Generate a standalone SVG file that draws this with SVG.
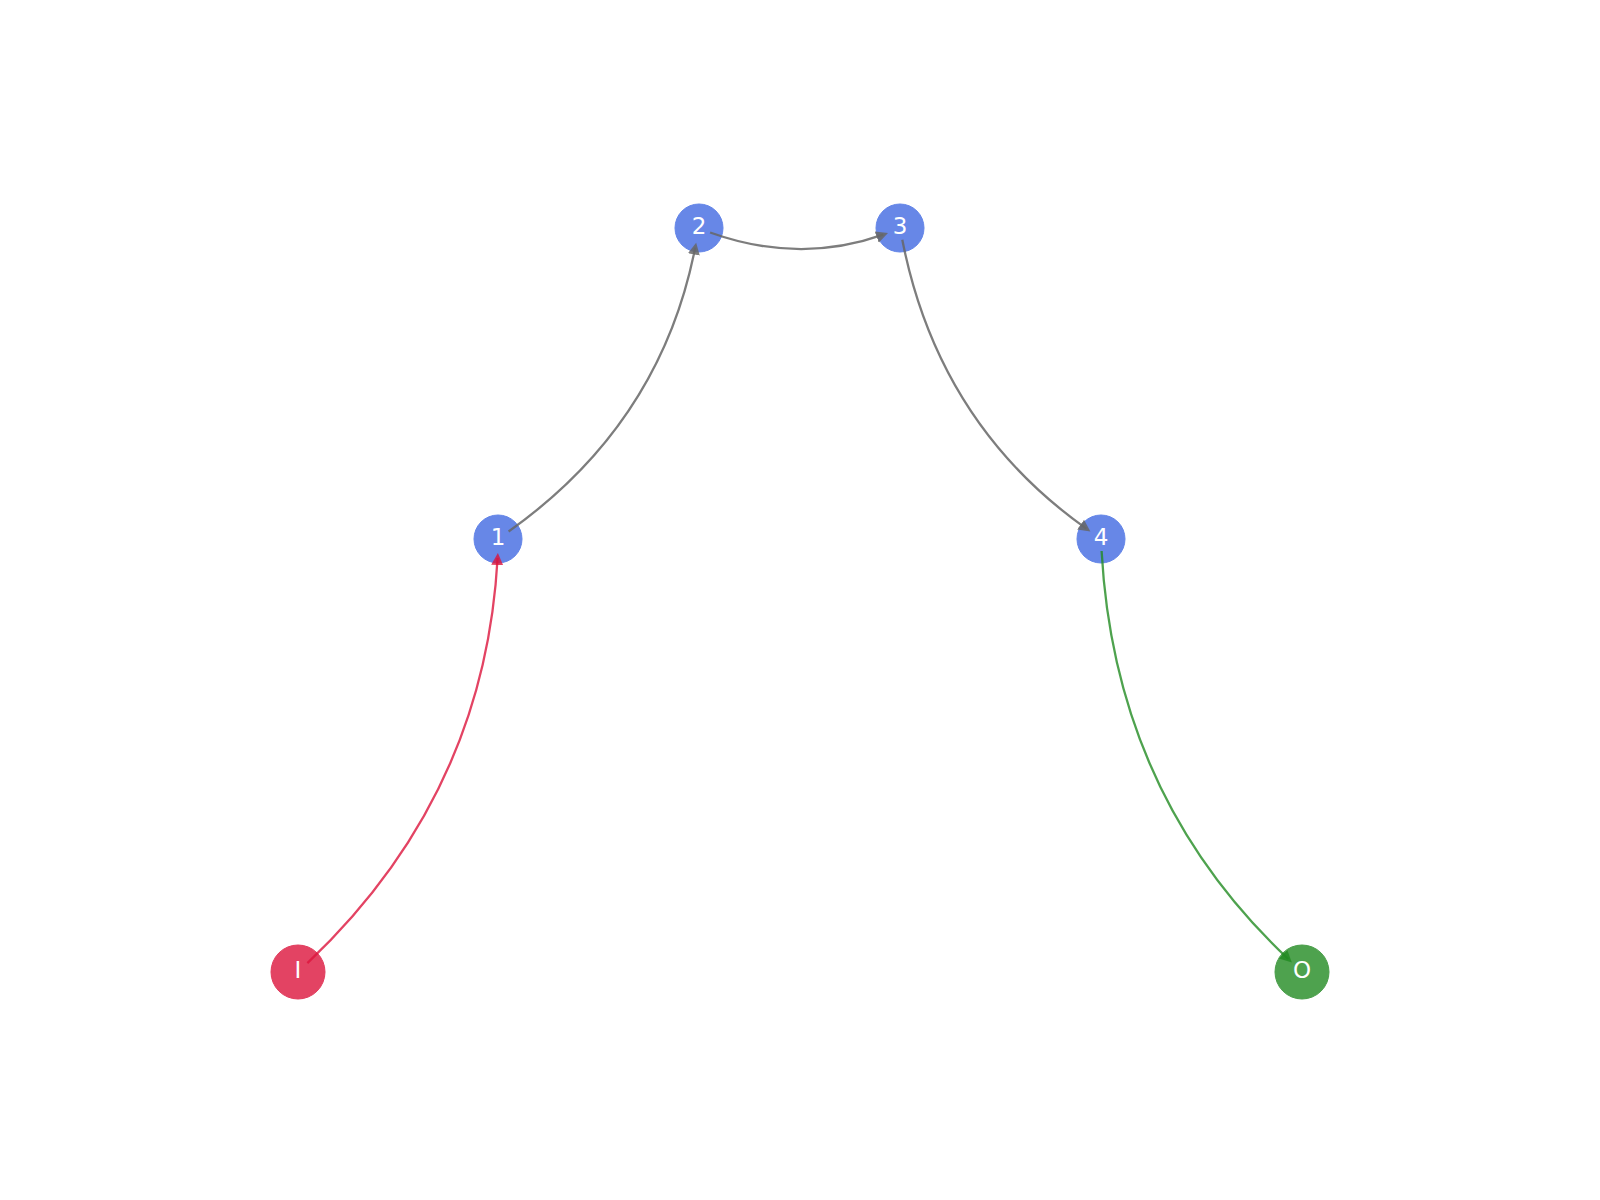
<svg xmlns="http://www.w3.org/2000/svg" width="1600" height="1200" viewBox="0 0 1600 1200">
<style>
.node circle{stroke-width:1}
.blue circle{fill:#6787e7;stroke:#6385e8}
.red circle{fill:#e34363;stroke:#e23c5d}
.green circle{fill:#4ea24e;stroke:#4a9e4a}
.node text{font-family:"DejaVu Sans","Liberation Sans",sans-serif;font-size:23px;fill:#ffffff;text-anchor:middle;dominant-baseline:central}
.edge{fill:none;stroke-width:2.3}
.gray{stroke:#666666;stroke-opacity:0.85}
.redE{stroke:#dc143c;stroke-opacity:0.8}
.greenE{stroke:#228b22;stroke-opacity:0.8}
</style>
<defs>
<marker id="ag" markerUnits="userSpaceOnUse" markerWidth="14" markerHeight="14" refX="7" refY="7" orient="auto" viewBox="0 0 14 14">
<path d="M0,1 L12,7 L0,13 z" fill="#666666" fill-opacity="0.85"/>
</marker>
<marker id="ar" markerUnits="userSpaceOnUse" markerWidth="14" markerHeight="14" refX="7" refY="7" orient="auto" viewBox="0 0 14 14">
<path d="M0,1 L12,7 L0,13 z" fill="#dc143c" fill-opacity="0.8"/>
</marker>
<marker id="agr" markerUnits="userSpaceOnUse" markerWidth="14" markerHeight="14" refX="7" refY="7" orient="auto" viewBox="0 0 14 14">
<path d="M0,1 L12,7 L0,13 z" fill="#228b22" fill-opacity="0.8"/>
</marker>
</defs>
<rect width="1600" height="1200" fill="#ffffff"/>
<g id="node-I" class="node red"><circle cx="298" cy="972" r="27"/><text x="298" y="970">I</text></g>
<g id="node-1" class="node blue"><circle cx="498" cy="539" r="24"/><text x="498" y="537">1</text></g>
<g id="node-2" class="node blue"><circle cx="699" cy="228" r="24"/><text x="699" y="226">2</text></g>
<g id="node-3" class="node blue"><circle cx="900" cy="228" r="24"/><text x="900" y="226">3</text></g>
<g id="node-4" class="node blue"><circle cx="1101" cy="539" r="24"/><text x="1101" y="537">4</text></g>
<g id="node-O" class="node green"><circle cx="1302" cy="972" r="27"/><text x="1302" y="970">O</text></g>
<g id="connectors">
<path class="edge redE" d="M307.4,963.1 Q484.6,795.5 497.6,558" marker-end="url(#ar)"/>
<path class="edge gray" d="M508.6,531.5 Q660.7,423.7 695.2,247.6" marker-end="url(#ag)"/>
<path class="edge gray" d="M710.1,232.5 Q799.5,264.5 883.3,234.7" marker-end="url(#ag)"/>
<path class="edge gray" d="M902.3,239.8 Q938.3,423.7 1086.3,528.6" marker-end="url(#ag)"/>
<path class="edge greenE" d="M1101.6,551 Q1114.9,795.7 1288.2,959" marker-end="url(#agr)"/>
</g>
</svg>
